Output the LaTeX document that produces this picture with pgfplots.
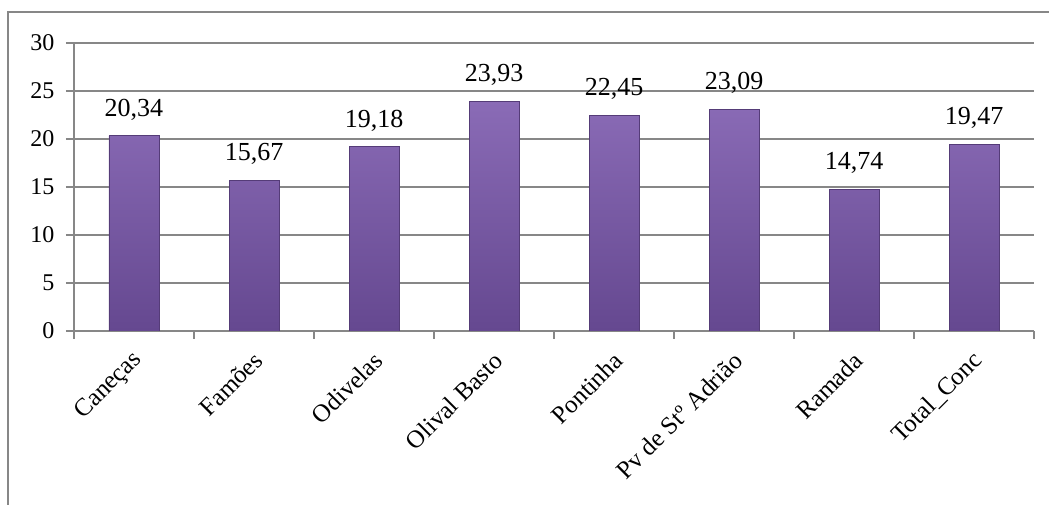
\documentclass[border=0pt]{standalone}
\usepackage{fontspec}
\setmainfont{Liberation Serif}
\usepackage{pgfplots}
\pgfplotsset{compat=1.18}
\definecolor{gridgray}{HTML}{878787}
\definecolor{bartop}{HTML}{8A6BB6}
\definecolor{barbot}{HTML}{654890}
\definecolor{baredge}{HTML}{553C78}
\begin{document}
\begin{tikzpicture}
\begin{axis}[
  at={(0pt,0pt)}, anchor=south west,
  scale only axis, width=960pt, height=288pt,
  xmin=-0.5, xmax=7.5, ymin=0, ymax=30,
  axis x line*=bottom, axis y line*=left,
  axis line style={gridgray, line width=1.3pt},
  ytick={0,5,...,30},
  ymajorgrids, grid style={gridgray, line width=1.3pt},
  tick style={gridgray, line width=1.3pt},
  major tick length=8pt, tick align=outside,
  xtick={-0.5,0.5,...,7.5},
  x tick label as interval,
  xticklabels={Caneças,Famões,Odivelas,Olival Basto,Pontinha,Pv de Stº Adrião,Ramada,Total\_Conc},
  yticklabel style={font=\fontsize{24}{28}\selectfont, text=black, xshift=-8pt},
  /pgf/number format/assume math mode=true,
  xticklabel style={font=\fontsize{25}{29}\selectfont, text=black, xshift=6pt, yshift=-16pt, rotate=45, anchor=east, inner sep=2pt},
  ybar, bar width=50pt,
  nodes near coords={\pgfmathprintnumber[fixed, fixed zerofill, precision=2, use comma, assume math mode=true]{\pgfplotspointmeta}},
  nodes near coords style={font=\fontsize{26}{30}\selectfont, text=black, yshift=12pt},
]
\addplot[ybar, top color=bartop, bottom color=barbot, draw=baredge, line width=0.8pt]
  coordinates {(0,20.34) (1,15.67) (2,19.18) (3,23.93) (4,22.45) (5,23.09) (6,14.74) (7,19.47)};
\end{axis}
\draw[gridgray, line width=1.5pt] (-66pt,-180pt) -- (-66pt,319pt) -- (990pt,319pt);
\pgfresetboundingbox
\useasboundingbox (-74pt,-174pt) rectangle (975pt,331pt);
\end{tikzpicture}
\end{document}
